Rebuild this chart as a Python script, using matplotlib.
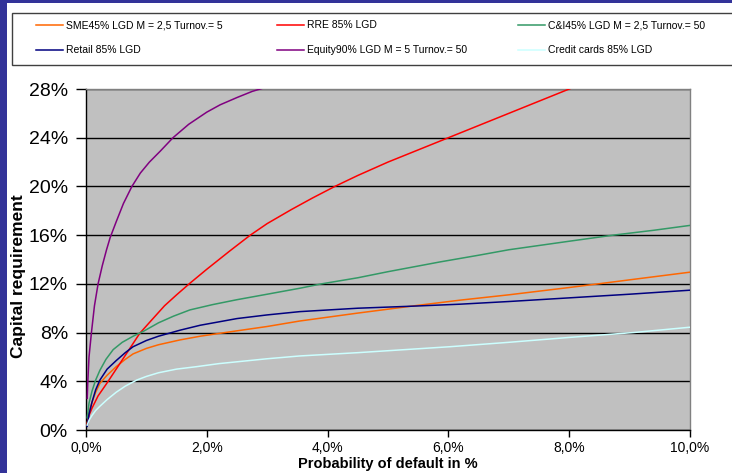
import matplotlib
matplotlib.use("Agg")
import matplotlib.pyplot as plt
from matplotlib.patches import Rectangle
from matplotlib.lines import Line2D
from matplotlib.ticker import FuncFormatter, MultipleLocator

plt.rcParams['font.family'] = ['Liberation Sans', 'DejaVu Sans']

# ---- data (PD in %, capital requirement in %) ----
labels = ["SME45% LGD M = 2,5 Turnov.= 5", "RRE 85% LGD", "C&I45% LGD M = 2,5 Turnov.= 50",
          "Retail 85% LGD", "Equity90% LGD M = 5 Turnov.= 50", "Credit cards 85% LGD"]
colors = ["#FF6600", "#FF0000", "#339966", "#000080", "#800080", "#CCFFFF"]

sme_pd = [0.02, 0.05, 0.1, 0.16, 0.23, 0.35, 0.5, 0.65, 0.78, 1.0, 1.2, 1.56, 1.89, 2.3, 3.0,
          3.54, 4.5, 5.42, 6.19, 7.0, 8.0, 8.48, 9.0, 10.0]
sme_cr = [0.5, 1.4, 2.3, 3.1, 3.83, 4.5, 5.2, 5.8, 6.25, 6.7, 7.0, 7.4, 7.7, 8.0, 8.5,
          8.95, 9.6, 10.19, 10.66, 11.1, 11.7, 12.0, 12.33, 12.96]

rre_pd = [0.02, 0.05, 0.1, 0.2, 0.34, 0.5, 0.7, 0.89, 1.1, 1.3, 1.5, 1.72, 2.0, 2.38, 2.72,
          3.0, 3.4, 3.75, 4.12, 4.5, 5.0, 5.5, 6.0, 6.5, 7.0, 7.5, 8.05]
rre_cr = [0.5, 1.2, 1.8, 2.8, 3.8, 5.0, 6.5, 7.94, 9.1, 10.2, 11.1, 12.05, 13.2, 14.7, 16.0,
          16.95, 18.1, 19.05, 20.0, 20.9, 22.0, 23.0, 24.0, 25.0, 26.0, 27.0, 28.1]

ci_pd = [0.02, 0.05, 0.1, 0.16, 0.23, 0.33, 0.45, 0.6, 0.78, 0.95, 1.2, 1.45, 1.72, 2.1, 2.5,
         3.0, 3.54, 3.9, 4.5, 5.0, 5.86, 6.5, 7.0, 7.5, 8.0, 8.73, 9.4, 10.0]
ci_cr = [1.0, 2.2, 3.2, 4.1, 4.9, 5.8, 6.6, 7.2, 7.7, 8.1, 8.8, 9.35, 9.86, 10.3, 10.7,
         11.15, 11.64, 12.0, 12.5, 13.0, 13.8, 14.35, 14.8, 15.15, 15.5, 16.0, 16.4, 16.8]

ret_pd = [0.02, 0.05, 0.1, 0.16, 0.23, 0.35, 0.5, 0.65, 0.78, 1.0, 1.2, 1.56, 1.89, 2.5, 3.0,
          3.54, 4.5, 5.42, 6.19, 7.0, 8.0, 9.0, 10.0]
ret_cr = [0.3, 1.3, 2.3, 3.3, 4.1, 5.0, 5.7, 6.35, 6.84, 7.35, 7.7, 8.2, 8.6, 9.15, 9.45,
          9.72, 10.0, 10.17, 10.33, 10.55, 10.85, 11.15, 11.48]

eq_pd = [0.02, 0.03, 0.05, 0.09, 0.14, 0.2, 0.27, 0.34, 0.4, 0.5, 0.62, 0.76, 0.9, 1.05, 1.23,
         1.44, 1.7, 2.0, 2.22, 2.5, 2.75, 2.95]
eq_cr = [2.6, 4.0, 6.0, 8.0, 10.2, 12.0, 13.5, 14.8, 15.8, 17.1, 18.6, 20.0, 21.1, 22.0, 22.9,
         24.0, 25.1, 26.1, 26.7, 27.3, 27.8, 28.1]

cc_pd = [0.02, 0.05, 0.1, 0.16, 0.23, 0.35, 0.5, 0.65, 0.84, 1.0, 1.2, 1.5, 1.83, 2.2, 2.5,
         3.0, 3.54, 4.5, 6.03, 7.0, 8.0, 9.06, 10.0]
cc_cr = [0.4, 0.8, 1.2, 1.6, 1.95, 2.5, 3.1, 3.6, 4.1, 4.4, 4.7, 5.0, 5.2, 5.45, 5.6,
         5.85, 6.08, 6.35, 6.84, 7.2, 7.6, 8.0, 8.44]

series = [(sme_pd, sme_cr), (rre_pd, rre_cr), (ci_pd, ci_cr),
          (ret_pd, ret_cr), (eq_pd, eq_cr), (cc_pd, cc_cr)]

x_label = "Probability of default in %"
y_label = "Capital requirement"

# ---- figure ----
W, H = 732, 473
fig = plt.figure(figsize=(W / 100, H / 100), dpi=100)
fig.patch.set_facecolor("white")

# navy frame strips (left and top)
fig.patches.append(Rectangle((0, 0), 7 / W, 1, transform=fig.transFigure,
                             facecolor="#333399", edgecolor="none", zorder=0))
fig.patches.append(Rectangle((0, 1 - 3 / H), 1, 3 / H, transform=fig.transFigure,
                             facecolor="#333399", edgecolor="none", zorder=0))

# legend box
fig.patches.append(Rectangle((12.3 / W, 1 - 65 / H), (760 - 12.3) / W, (65 - 13.3) / H,
                             transform=fig.transFigure, facecolor="white",
                             edgecolor="#404040", linewidth=1.0, zorder=1))

ax = fig.add_axes([86 / W, 1 - 430 / H, (690 - 86) / W, (430 - 89) / H])
ax.set_facecolor("#C0C0C0")

lines = []
for (xs, ys), c, lab in zip(series, colors, labels):
    ln, = ax.plot(xs, ys, color=c, lw=1.1, label=lab, zorder=3)
    lines.append(ln)

ax.set_xlim(0, 10)
ax.set_ylim(0, 28)
ax.yaxis.set_major_locator(MultipleLocator(4))
ax.xaxis.set_major_locator(MultipleLocator(2))
ax.yaxis.set_major_formatter(FuncFormatter(lambda v, p: f"{v:.0f}%"))
ax.xaxis.set_major_formatter(FuncFormatter(lambda v, p: f"{v:.1f}%".replace(".", ",")))
ax.grid(axis="y", color="black", lw=1.0, zorder=1)
ax.set_axisbelow(True)

for s in ["top", "right"]:
    ax.spines[s].set_color("#808080")
    ax.spines[s].set_linewidth(1.0)
for s in ["left", "bottom"]:
    ax.spines[s].set_color("black")
    ax.spines[s].set_linewidth(1.0)

ax.tick_params(axis="y", direction="out", length=7, width=1, labelsize=14, pad=6)
ax.tick_params(axis="x", direction="out", length=5, width=1, labelsize=10, pad=3)

ax.set_xlabel(x_label, fontsize=10.5, fontweight="bold", labelpad=1)
ax.set_ylabel(y_label, fontsize=12.5, fontweight="bold")
ax.yaxis.set_label_coords(-0.0993, 0.452)

# legend entries placed like the original
col_x = [36, 277, 518]
row_y = [25, 50]
for i, ln in enumerate(lines):
    r, c = divmod(i, 3)
    x0 = col_x[c]
    y0 = 1 - row_y[r] / H
    fig.add_artist(Line2D([x0 / W, (x0 + 27) / W], [y0, y0], transform=fig.transFigure,
                          color=ln.get_color(), lw=1.1, zorder=2))
    fig.text((x0 + 30) / W, y0, ln.get_label(), fontsize=7.5, va="center", ha="left", zorder=2)

fig.savefig("out.png", dpi=100)
